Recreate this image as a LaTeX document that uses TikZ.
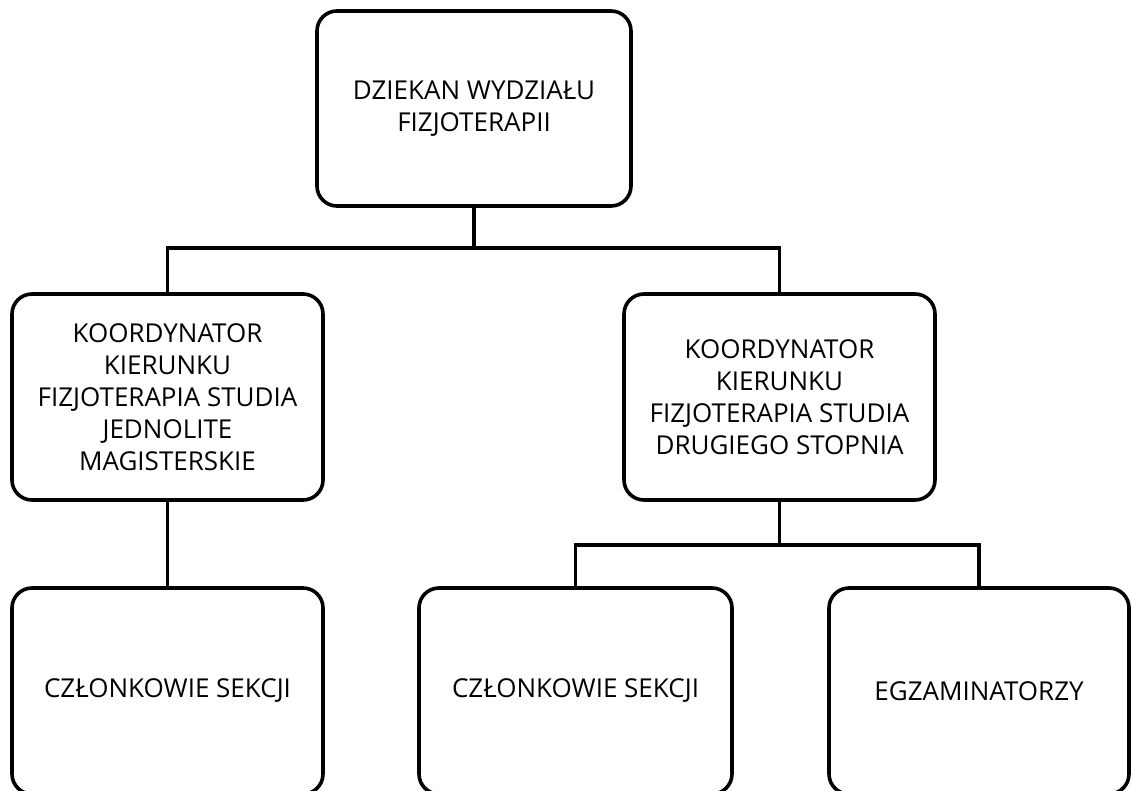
\documentclass[tikz,border=0pt]{standalone}
\usepackage{fontspec}
\setmainfont{Open Sans}
\usetikzlibrary{positioning}

\begin{document}
\begin{tikzpicture}[x=1pt,y=-1pt,line width=3.6pt,
        box node/.style={rectangle,rounded corners=20pt,draw,align=center,inner sep=0pt,
          font=\fontsize{26}{32}\selectfont}]
        \useasboundingbox (0,0) rectangle (1131,791);
        \clip (0,0) rectangle (1131,791);

        \node[box node,minimum width=314pt,minimum height=195pt] (dziekan) at (474,108.5) {DZIEKAN WYDZIAŁU\\FIZJOTERAPII};
        \node[box node,minimum width=311pt,minimum height=206pt] (koord1) at (167.5,397) {KOORDYNATOR\\KIERUNKU\\FIZJOTERAPIA STUDIA\\JEDNOLITE\\MAGISTERSKIE};
        \node[box node,minimum width=311pt,minimum height=206pt] (koord2) at (779.5,397) {KOORDYNATOR\\KIERUNKU\\FIZJOTERAPIA STUDIA\\DRUGIEGO STOPNIA};
        \node[box node,minimum width=311pt,minimum height=206pt] (czlonk1) at (167.5,691) {CZŁONKOWIE SEKCJI};
        \node[box node,minimum width=313pt,minimum height=206pt] (czlonk2) at (575.5,691) {CZŁONKOWIE SEKCJI};
        \node[box node,minimum width=300pt,minimum height=206pt] (egzam) at (979,691) {EGZAMINATORZY};

        \coordinate (bar1) at (474,248);
        \coordinate (bar2) at (779.5,545);

        \draw (dziekan.south) -- (bar1);
        \draw (koord1.north) |- (bar1) -| (koord2.north);
        \draw (koord1.south) -- (czlonk1.north);
        \draw (koord2.south) -- (bar2);
        \draw (czlonk2.north) |- (bar2) -| (egzam.north);
      \end{tikzpicture}
\end{document}
